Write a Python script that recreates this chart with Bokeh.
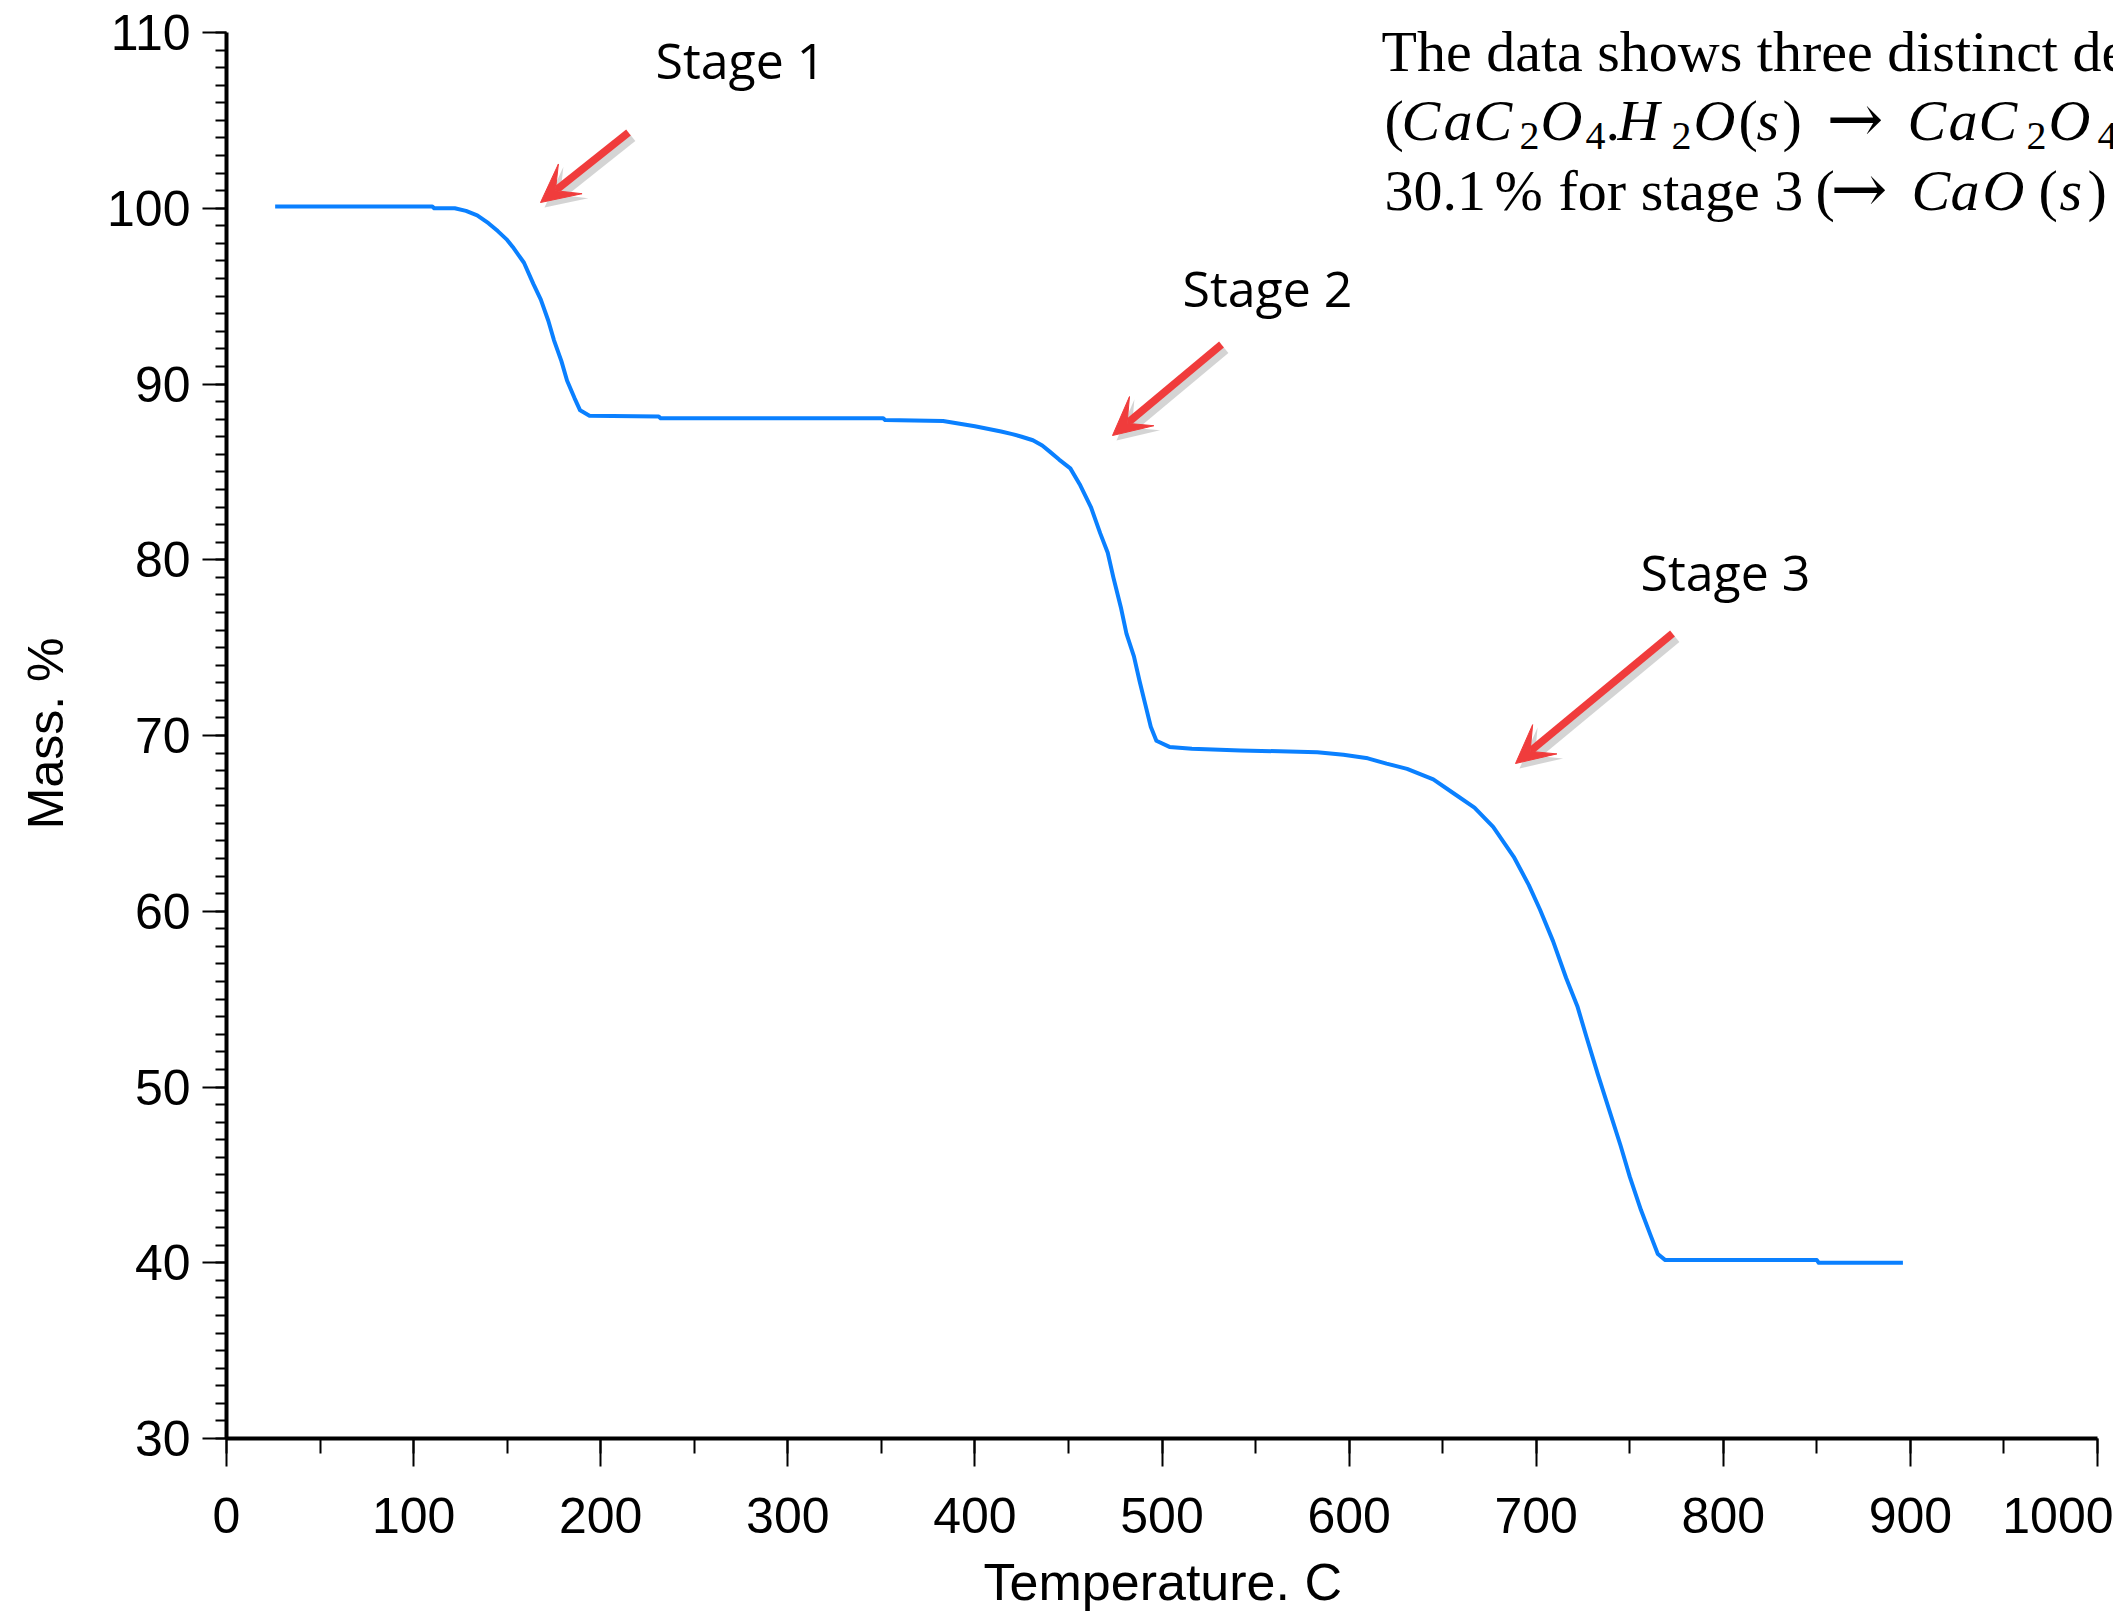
from bokeh.plotting import figure
from bokeh.models import Range1d, SingleIntervalTicker, Label, Arrow, VeeHead
from bokeh.embed import file_html
from bokeh.resources import INLINE

# Thermogravimetric trace of calcium oxalate monohydrate
temperature = [26, 60, 110, 111, 122, 128, 134, 140, 145, 150, 153, 156, 159, 164,
               168, 172, 175, 179, 182, 186, 189, 194, 231, 232, 351, 352, 383, 400,
               414, 420, 425, 431, 436, 440, 445, 451, 456, 462, 467, 471, 474, 478,
               481, 485, 488, 491, 494, 497, 504, 516, 542, 583, 597, 610, 620, 631,
               645, 656, 667, 677, 688, 696, 702, 709, 716, 722, 727, 733, 739, 745,
               750, 756, 761, 765, 769, 850, 851, 896]
mass = [100.1, 100.1, 100.1, 100.0, 100.0, 99.85, 99.6, 99.15, 98.7, 98.2, 97.8, 97.35,
        96.9, 95.7, 94.8, 93.6, 92.5, 91.3, 90.2, 89.2, 88.5, 88.2, 88.15, 88.05,
        88.05, 87.95, 87.9, 87.6, 87.3, 87.15, 87.0, 86.8, 86.5, 86.15, 85.7, 85.2,
        84.3, 83.0, 81.5, 80.4, 79.0, 77.3, 75.8, 74.5, 73.1, 71.8, 70.5, 69.7, 69.35,
        69.25, 69.15, 69.05, 68.9, 68.7, 68.4, 68.1, 67.5, 66.7, 65.9, 64.8, 63.1,
        61.5, 60.1, 58.3, 56.2, 54.6, 52.8, 50.7, 48.7, 46.7, 44.9, 43.0, 41.6, 40.5,
        40.15, 40.15, 40.0, 40.0]

stage_labels = ["Stage 1", "Stage 2", "Stage 3"]
x_title = "Temperature. C"
y_title = "Mass. %"

W, H = 2113, 1613
# axis extents: value -> canvas pixel
XA, XB, XPA, XPB = 0, 1000, 226, 2097
YA, YB, YPA, YPB = 30, 110, 1438, 32
sx_ = (XPB - XPA) / (XB - XA)
sy_ = (YPA - YPB) / (YB - YA)

def tx(px):
    return XA + (px - XPA) / sx_
def my(py):
    return YB - (py - YPB) / sy_

# frame spans the whole canvas width right of the y axis and up to the top edge,
# so the annotation text is not clipped before the canvas edge
p = figure(width=W, height=H,
           x_range=Range1d(XA, tx(W)), y_range=Range1d(YA, my(0)),
           output_backend="svg", toolbar_location=None,
           min_border_left=XPA, min_border_right=0,
           min_border_top=0, min_border_bottom=H - YPA)
p.outline_line_color = None
p.grid.visible = False
p.background_fill_color = "white"
p.border_fill_color = "white"

AX_FONT = "Liberation Sans"
for ax in (p.xaxis[0], p.yaxis[0]):
    ax.axis_line_width = 4
    ax.axis_line_color = "black"
    ax.major_tick_line_width = 2
    ax.minor_tick_line_width = 2
    ax.major_tick_in = 0
    ax.minor_tick_in = 0
    ax.major_label_text_font = AX_FONT
    ax.major_label_text_font_size = "50px"
    ax.major_label_text_color = "black"
    ax.axis_label_text_font = AX_FONT
    ax.axis_label_text_font_style = "normal"
    ax.axis_label_text_color = "black"

# titles are centred on the frame; the trailing no-break spaces re-centre
# them on the drawn axis lines, which are shorter than the frame
NBSP = "\u00a0"

p.xaxis.bounds = (XA, XB)
p.xaxis.ticker = SingleIntervalTicker(interval=100, num_minor_ticks=2)
p.xaxis.major_tick_out = 28
p.xaxis.minor_tick_out = 15
p.xaxis.major_label_standoff = 31
p.xaxis.axis_label = x_title + NBSP
p.xaxis.axis_label_text_font_size = "52px"
p.xaxis.axis_label_standoff = 17

p.yaxis.bounds = (YA, YB)
p.yaxis.ticker = SingleIntervalTicker(interval=10, num_minor_ticks=10)
p.yaxis.major_tick_out = 24
p.yaxis.minor_tick_out = 11
p.yaxis.major_label_standoff = 12
p.yaxis.axis_label = y_title + NBSP * 2
p.yaxis.axis_label_text_font_size = "50px"
p.yaxis.axis_label_standoff = 30

p.line(temperature, mass, line_color="#0a80ff", line_width=4, line_join="round")

# stage annotations: label + pointing arrow
RED = "#f03c3c"
stage_text_px = [(655, 59), (1182, 287), (1640, 571)]
stage_arrow_px = [((628, 132), (540, 202)),
                  ((1221, 344), (1112, 435)),
                  ((1672, 633), (1515, 763))]
for name, (lx, ly), ((sx, sy), (ex, ey)) in zip(stage_labels, stage_text_px, stage_arrow_px):
    p.add_layout(Label(x=tx(lx), y=my(ly), text=name, text_font="Open Sans",
                       text_font_size="50px", text_color="black",
                       text_baseline="middle", text_align="left"))
    # soft shadow under the arrow
    p.add_layout(Arrow(x_start=tx(sx + 4), y_start=my(sy + 5), x_end=tx(ex + 4), y_end=my(ey + 5),
                       line_color="#555555", line_alpha=0.25, line_width=9,
                       end=VeeHead(size=40, fill_color="#555555", fill_alpha=0.25,
                                   line_color=None)))
    p.add_layout(Arrow(x_start=tx(sx), y_start=my(sy), x_end=tx(ex), y_end=my(ey),
                       line_color=RED, line_width=7.5,
                       end=VeeHead(size=38, fill_color=RED, line_color=RED, line_width=1)))

# explanatory text block in the upper right
SERIF = "Liberation Serif"
BIG = "58px"
SMALL = "40px"
def put(text, px, py, style="normal", size=BIG, font=SERIF):
    p.add_layout(Label(x=tx(px), y=my(py), text=text, text_font=font,
                       text_font_size=size, text_font_style=style, text_color="black",
                       text_baseline="alphabetic", text_align="left"))

L1, L2, L3, SUB = 51, 120, 190, 135

put("The data shows three distinct de", 1381, L1)

ARROW = "\u2192"
line2 = [("(", 1384, "normal"), ("C", 1401, "italic"), ("a", 1443, "italic"),
         ("C", 1473, "italic"), ("2", 1519, "sub"), ("O", 1540, "italic"),
         ("4", 1585, "sub"), (".", 1605, "normal"), ("H", 1617, "italic"),
         ("2", 1671, "sub"), ("O", 1693, "italic"), ("(", 1738, "normal"),
         ("s", 1756, "italic"), (")", 1782, "normal"), (ARROW, 1826, "arrow"),
         ("C", 1907, "italic"), ("a", 1948, "italic"), ("C", 1978, "italic"),
         ("2", 2026, "sub"), ("O", 2048, "italic"), ("4", 2097, "sub")]
line3 = [("30.1", 1384, "normal"), ("%", 1494, "normal"), ("for stage 3", 1558, "normal"),
         ("(", 1815, "normal"), (ARROW, 1830, "arrow"), ("C", 1911, "italic"),
         ("a", 1950, "italic"), ("O", 1982, "italic"), ("(", 2038, "normal"),
         ("s", 2059, "italic"), (")", 2087, "normal")]

for row, base in ((line2, L2), (line3, L3)):
    for t, px, kind in row:
        if kind == "sub":
            put(t, px, base + (SUB - L2), "normal", SMALL)
        elif kind == "arrow":
            put(t, px, base - 2, "normal", "68px", "DejaVu Serif")
        else:
            put(t, px, base, kind)

open("out.html", "w").write(file_html(p, INLINE))
